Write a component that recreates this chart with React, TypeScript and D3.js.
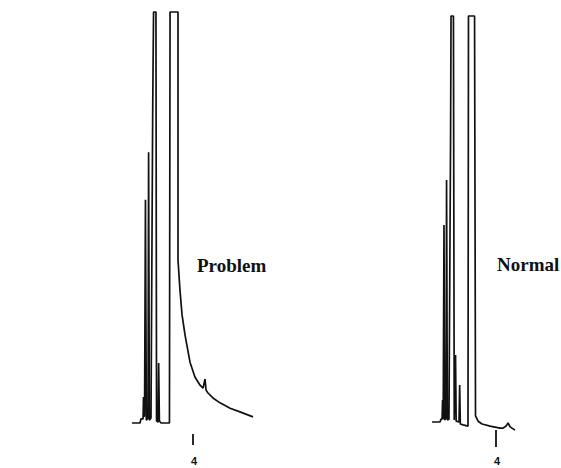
import * as d3 from "d3";

// chromatogram traces, time in minutes, signal in % of full scale
const problemTime = [
  -0.07, 0.47, 0.53, 0.67, 0.7, 0.77, 0.83, 0.89, 1.0, 1.04, 1.09, 1.2, 1.31, 1.33,
  1.37, 1.53, 1.57, 1.67, 1.71, 1.76, 1.87, 2.43, 2.47, 3.0, 3.0, 3.13, 3.27, 3.47,
  3.8, 4.13, 4.47, 4.67, 4.73, 4.8, 4.87, 5.0, 5.33, 5.8, 6.47, 7.13, 8.0,
];
const problemSignal = [
  0, 0, 1.0, 1.0, 6.3, 1.5, 54.3, 0.7, 1.2, 65.9, 0.7, 1.2, 73.7, 83.5,
  100, 100, 0.5, 0.2, 14.6, 0.5, 0, 0, 100, 100, 39.7, 32.4, 26.3, 21.4,
  14.8, 11.2, 9.2, 8.5, 9.5, 10.7, 8.0, 7.3, 6.1, 4.9, 3.6, 2.7, 1.5,
];

const normalTime = [
  0, 0.5, 0.56, 0.63, 0.66, 0.7, 0.75, 0.79, 0.88, 0.91, 0.96, 1.06, 1.16, 1.19,
  1.34, 1.39, 1.47, 1.51, 1.69, 1.73, 1.77, 1.94, 2.25, 2.28, 2.66, 2.72, 2.88,
  3.13, 3.63, 4.25, 4.44, 4.63, 4.75, 4.88, 5.19,
];
const normalSignal = [
  0, 0, 0.7, 0.7, 5.4, 0.7, 48.5, 0.5, 1.0, 59.6, 0.5, 0.7, 69.5, 100,
  100, 0.5, 16.5, 0.2, 0, 9.1, -0.5, -0.7, -1.0, 100, 100, 1.5, 0.2,
  -0.5, -1.0, -1.5, -1.5, -1.0, -0.2, -1.2, -2.0,
];

const tickTimes = [4];

const panels = [
  {
    name: "Problem",
    time: problemTime,
    signal: problemSignal,
    xRange: [133, 253],
    xDomain: [0, 8],
    yRange: [423, 12],
    tickY: [434, 445],
    labelX: 197,
    labelY: 272,
  },
  {
    name: "Normal",
    time: normalTime,
    signal: normalSignal,
    xRange: [432, 560],
    xDomain: [0, 8],
    yRange: [422, 16],
    tickY: [430, 447],
    labelX: 497,
    labelY: 271,
  },
];

export default function App() {
  return (
    <svg
      width={561}
      height={468}
      style={{ position: "absolute", left: 0, top: 0, background: "#fff" }}
    >
      {panels.map((p) => {
        const x = d3.scaleLinear().domain(p.xDomain).range(p.xRange);
        const y = d3.scaleLinear().domain([0, 100]).range(p.yRange);
        const pts = p.time.map((t, i) => [t, p.signal[i]] as [number, number]);
        const line = d3
          .line<[number, number]>()
          .x((d) => x(d[0]))
          .y((d) => y(d[1]));
        return (
          <g key={p.name}>
            <path
              d={line(pts) ?? ""}
              fill="none"
              stroke="#111"
              strokeWidth={1.7}
              strokeLinejoin="bevel"
            />
            {tickTimes.map((t) => (
              <g key={t}>
                <line
                  x1={x(t)}
                  x2={x(t)}
                  y1={p.tickY[0]}
                  y2={p.tickY[1]}
                  stroke="#111"
                  strokeWidth={1.8}
                />
                <text
                  x={x(t) + 1}
                  y={465}
                  textAnchor="middle"
                  fontFamily="'Liberation Sans', Arial, sans-serif"
                  fontWeight="bold"
                  fontSize={11}
                  fill="#111"
                >
                  {t}
                </text>
              </g>
            ))}
            <text
              x={p.labelX}
              y={p.labelY}
              fontFamily="'Liberation Serif', 'Times New Roman', serif"
              fontWeight="bold"
              fontSize={19}
              fill="#111"
            >
              {p.name}
            </text>
          </g>
        );
      })}
    </svg>
  );
}
